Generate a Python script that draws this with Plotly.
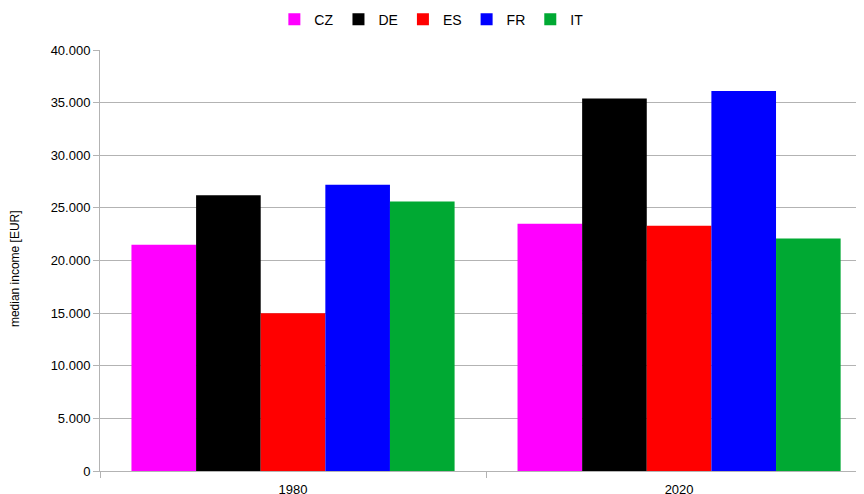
import plotly.graph_objects as go

categories = ["1980", "2020"]
countries = ["CZ", "DE", "ES", "FR", "IT"]
values = {
    "CZ": [21500, 23500],
    "DE": [26200, 35400],
    "ES": [15000, 23300],
    "FR": [27200, 36100],
    "IT": [25600, 22100],
}
colors = {
    "CZ": "#FF00FF",
    "DE": "#000000",
    "ES": "#FF0000",
    "FR": "#0000FF",
    "IT": "#00A933",
}
y_title = "median income [EUR]"

fig = go.Figure()
for c in countries:
    fig.add_trace(go.Bar(name=c, x=categories, y=values[c], marker_color=colors[c],
                         marker_line_width=0))

font = "Liberation Sans, Arial, sans-serif"
fig.update_layout(
    width=864, height=494,
    barmode="group", bargap=0.163, bargroupgap=0,
    separators=",.",
    plot_bgcolor="white", paper_bgcolor="white",
    margin=dict(l=92, r=8, t=42, b=31, autoexpand=False),
    font=dict(family=font, size=12, color="#333333"),
    legend=dict(orientation="h", xref="container", x=0.49, xanchor="center",
                yref="paper", y=1.11, yanchor="top",
                font=dict(size=14, color="#000000"), itemwidth=30,
                tracegroupgap=0),
    xaxis=dict(type="category", range=[-0.5, 1.479], showgrid=False,
               automargin=False,
               showline=True, linecolor="#b3b3b3", linewidth=1,
               ticks="outside", ticklen=6, tickcolor="#b3b3b3",
               tickson="boundaries", ticklabelstandoff=6,
               tickfont=dict(size=13, color="#000000")),
    yaxis=dict(range=[0, 40000], dtick=5000, tickformat=",d",
               automargin=False,
               showgrid=True, gridcolor="#b3b3b3", gridwidth=1,
               showline=True, linecolor="#b3b3b3", linewidth=1,
               ticks="outside", ticklen=6, tickcolor="#b3b3b3",
               zeroline=False,
               tickfont=dict(size=13, color="#000000")),
    annotations=[dict(text=y_title, textangle=-90, showarrow=False,
                      xref="paper", x=-0.111, xanchor="center",
                      yref="paper", y=0.48, yanchor="middle",
                      font=dict(size=12, color="#000000"))],
)
fig.write_html("out.html")
